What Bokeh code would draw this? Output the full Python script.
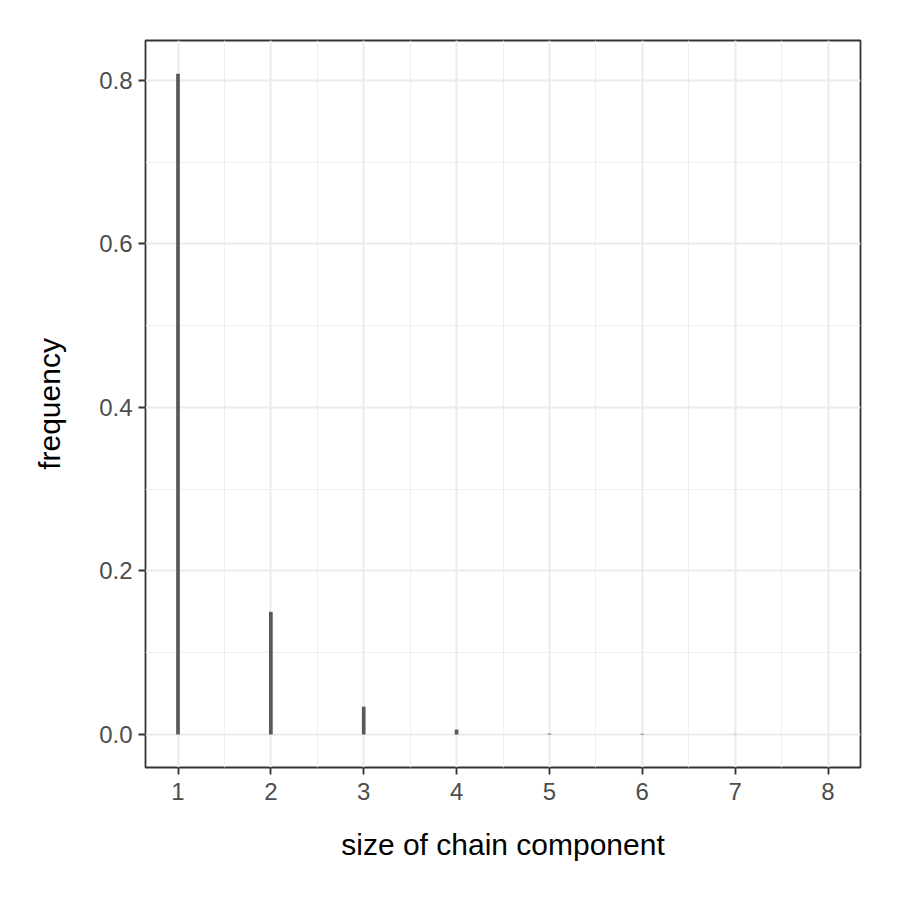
from bokeh.plotting import figure
from bokeh.models import ColumnDataSource, Range1d, FixedTicker
from bokeh.embed import file_html
from bokeh.resources import INLINE

sizes = [1, 2, 3, 4, 5, 6, 7, 8]
frequency = [0.808, 0.150, 0.034, 0.006, 0.001, 0.0008, 0.0003, 0.0001]
x_ticks = [1, 2, 3, 4, 5, 6, 7, 8]
y_ticks = [0.0, 0.2, 0.4, 0.6, 0.8]

src = ColumnDataSource(dict(x=sizes, y0=[0] * len(sizes), y1=frequency))

p = figure(frame_width=715, frame_height=727, output_backend="svg", toolbar_location=None,
           x_range=Range1d(0.65, 8.35), y_range=Range1d(-0.0404, 0.8488),
           min_border_left=145, min_border_top=40, min_border_right=32, min_border_bottom=125,
           background_fill_color="white", border_fill_color="white")

p.segment(x0="x", y0="y0", x1="x", y1="y1", source=src, line_width=3.7, line_color="#595959")

p.xaxis.ticker = FixedTicker(ticks=x_ticks, minor_ticks=[0.5 + i for i in range(9)])
p.yaxis.ticker = FixedTicker(ticks=y_ticks, minor_ticks=[0.1, 0.3, 0.5, 0.7])
p.yaxis.major_label_overrides = {0.0: "0.0", 0.2: "0.2", 0.4: "0.4", 0.6: "0.6", 0.8: "0.8"}

p.grid.grid_line_color = "#EBEBEB"
p.grid.grid_line_width = 2
p.grid.minor_grid_line_color = "#EFEFEF"
p.grid.minor_grid_line_width = 1.1

p.outline_line_color = "#333333"
p.outline_line_width = 1.8

for ax in (p.xaxis, p.yaxis):
    ax.axis_line_color = None
    ax.minor_tick_line_color = None
    ax.major_tick_line_color = "#333333"
    ax.major_tick_line_width = 1.8
    ax.major_tick_out = 7
    ax.major_tick_in = 0
    ax.major_label_text_font = "Liberation Sans"
    ax.major_label_text_font_size = "24px"
    ax.major_label_text_color = "#4D4D4D"
    ax.axis_label_text_font = "Liberation Sans"
    ax.axis_label_text_font_size = "30px"
    ax.axis_label_text_font_style = "normal"
    ax.axis_label_text_color = "black"

p.xaxis.axis_label = "size of chain component"
p.yaxis.axis_label = "frequency"
p.xaxis.major_label_standoff = 8
p.yaxis.major_label_standoff = 6
p.xaxis.axis_label_standoff = 25
p.yaxis.axis_label_standoff = 30

open("out.html", "w").write(file_html(p, INLINE))
